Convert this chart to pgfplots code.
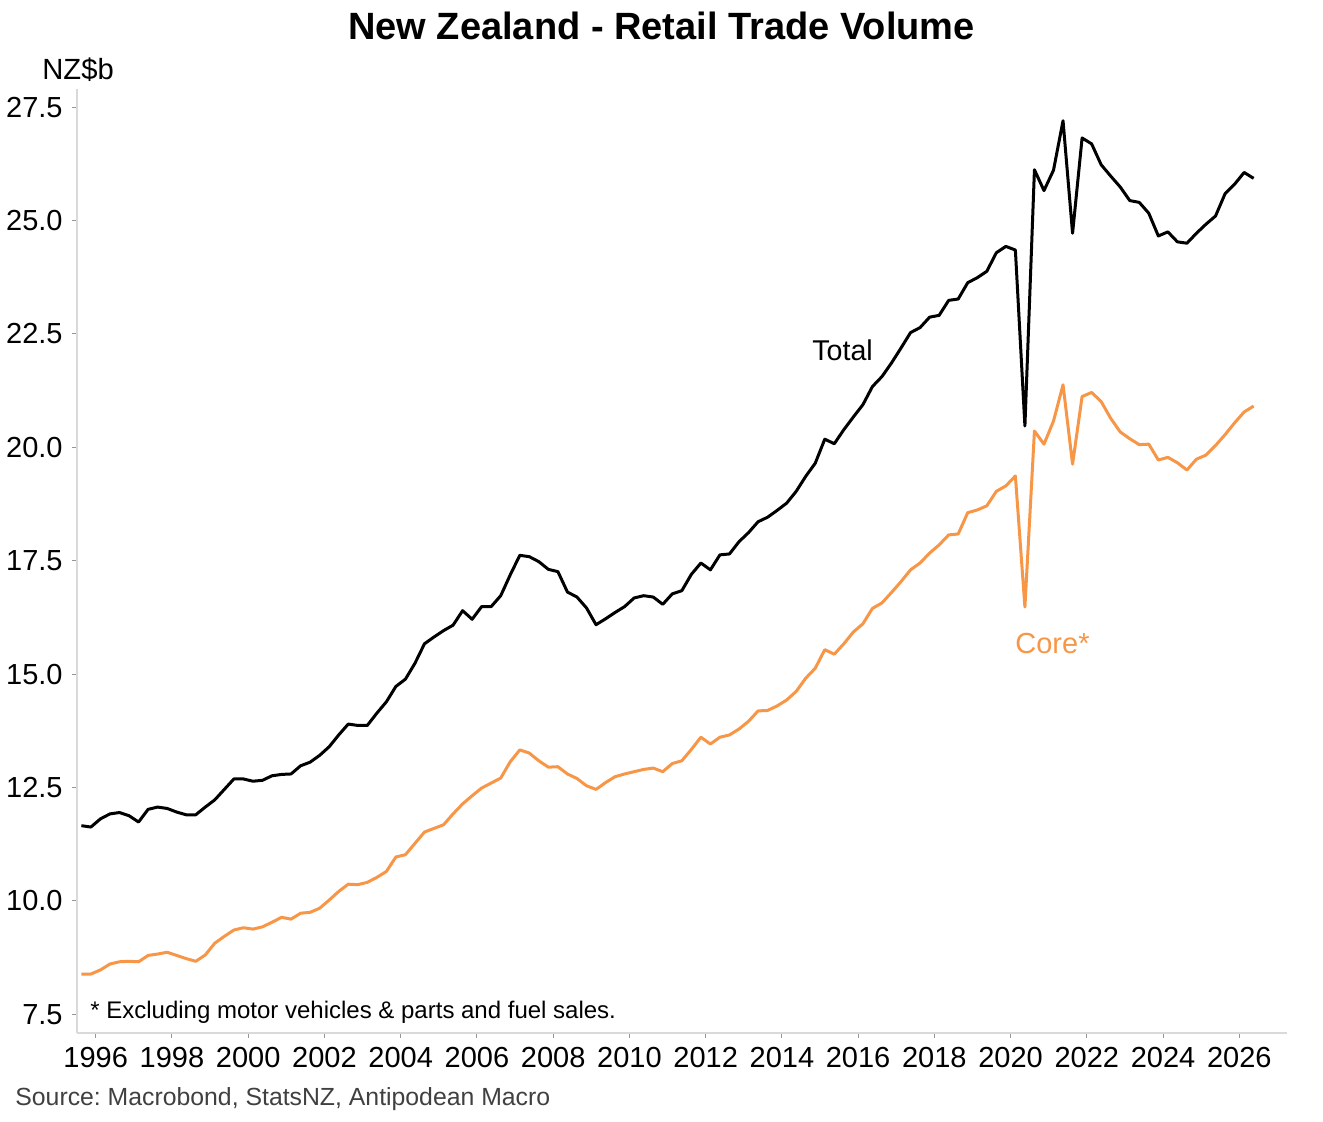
\documentclass[border=0pt]{standalone}
\usepackage{fontspec}
\setmainfont{Liberation Sans}
\usepackage{pgfplots}
\pgfplotsset{compat=1.18}
\usepackage{pgfplotstable}
\definecolor{coreorange}{RGB}{247,150,70}
\definecolor{srcgray}{RGB}{64,64,64}
\definecolor{axgray}{RGB}{217,217,217}
\definecolor{tickgray}{RGB}{150,150,150}
\frenchspacing

\pgfplotstableread{
x total core
1995.625 11.66 8.39
1995.875 11.63 8.39
1996.125 11.81 8.48
1996.375 11.92 8.61
1996.625 11.95 8.66
1996.875 11.88 8.67
1997.125 11.74 8.66
1997.375 12.02 8.80
1997.625 12.07 8.83
1997.875 12.04 8.87
1998.125 11.96 8.80
1998.375 11.90 8.73
1998.625 11.90 8.67
1998.875 12.07 8.81
1999.125 12.23 9.07
1999.375 12.46 9.22
1999.625 12.69 9.36
1999.875 12.69 9.41
2000.125 12.64 9.38
2000.375 12.66 9.43
2000.625 12.76 9.53
2000.875 12.79 9.64
2001.125 12.80 9.60
2001.375 12.98 9.73
2001.625 13.06 9.75
2001.875 13.21 9.84
2002.125 13.40 10.02
2002.375 13.66 10.21
2002.625 13.90 10.37
2002.875 13.87 10.36
2003.125 13.87 10.41
2003.375 14.14 10.52
2003.625 14.39 10.65
2003.875 14.73 10.97
2004.125 14.89 11.02
2004.375 15.24 11.27
2004.625 15.67 11.52
2004.875 15.82 11.60
2005.125 15.96 11.68
2005.375 16.08 11.92
2005.625 16.40 12.14
2005.875 16.21 12.32
2006.125 16.49 12.49
2006.375 16.49 12.60
2006.625 16.73 12.71
2006.875 17.19 13.07
2007.125 17.62 13.33
2007.375 17.59 13.26
2007.625 17.48 13.09
2007.875 17.31 12.95
2008.125 17.26 12.96
2008.375 16.81 12.80
2008.625 16.70 12.70
2008.875 16.46 12.54
2009.125 16.09 12.46
2009.375 16.22 12.61
2009.625 16.36 12.74
2009.875 16.49 12.80
2010.125 16.68 12.85
2010.375 16.73 12.90
2010.625 16.70 12.93
2010.875 16.54 12.85
2011.125 16.77 13.03
2011.375 16.84 13.09
2011.625 17.20 13.34
2011.875 17.45 13.61
2012.125 17.30 13.46
2012.375 17.63 13.61
2012.625 17.65 13.66
2012.875 17.92 13.79
2013.125 18.12 13.96
2013.375 18.36 14.19
2013.625 18.46 14.20
2013.875 18.61 14.30
2014.125 18.77 14.43
2014.375 19.03 14.62
2014.625 19.36 14.91
2014.875 19.65 15.13
2015.125 20.18 15.54
2015.375 20.08 15.44
2015.625 20.39 15.67
2015.875 20.67 15.93
2016.125 20.94 16.11
2016.375 21.34 16.45
2016.625 21.56 16.57
2016.875 21.86 16.80
2017.125 22.19 17.04
2017.375 22.53 17.30
2017.625 22.64 17.45
2017.875 22.87 17.67
2018.125 22.91 17.85
2018.375 23.24 18.07
2018.625 23.27 18.09
2018.875 23.63 18.56
2019.125 23.74 18.62
2019.375 23.88 18.71
2019.625 24.29 19.03
2019.875 24.43 19.15
2020.125 24.35 19.37
2020.375 20.47 16.48
2020.625 26.12 20.36
2020.875 25.66 20.07
2021.125 26.11 20.58
2021.375 27.20 21.38
2021.625 24.72 19.63
2021.875 26.82 21.12
2022.125 26.69 21.21
2022.375 26.23 21.01
2022.625 25.98 20.64
2022.875 25.74 20.34
2023.125 25.44 20.19
2023.375 25.40 20.06
2023.625 25.16 20.07
2023.875 24.66 19.72
2024.125 24.75 19.78
2024.375 24.53 19.66
2024.625 24.50 19.50
2024.875 24.72 19.74
2025.125 24.92 19.83
2025.375 25.10 20.04
2025.625 25.59 20.28
2025.875 25.80 20.54
2026.125 26.06 20.78
2026.375 25.93 20.91
}\datatable

\begin{document}
\begin{tikzpicture}
\useasboundingbox (0,0) rectangle (661.5pt,561pt);
\begin{axis}[
  at={(38.5pt,44.5pt)}, anchor=south west,
  scale only axis, width=605pt, height=472pt,
  xmin=1995.51, xmax=2027.25, ymin=7.09, ymax=27.9,
  axis x line*=bottom, axis y line*=left,
  axis line style={draw=axgray, line width=0.7pt, -},
  xtick={1996,1998,2000,2002,2004,2006,2008,2010,2012,2014,2016,2018,2020,2022,2024,2026},
  xticklabels={1996,1998,2000,2002,2004,2006,2008,2010,2012,2014,2016,2018,2020,2022,2024,2026},
  ytick={7.5,10,12.5,15,17.5,20,22.5,25,27.5},
  yticklabels={7.5,10.0,12.5,15.0,17.5,20.0,22.5,25.0,27.5},
  tick align=outside, major tick length=2.5pt,
  tick style={draw=tickgray, line width=0.5pt},
  tick label style={font=\fontsize{14.5}{17}\selectfont, inner sep=0pt},
  y tick label style={anchor=east, xshift=-4.5pt},
  x tick label style={anchor=north, yshift=-4.5pt},
  minor tick num=0,
]
\addplot[black, line width=1.5pt, line join=round] table[x=x,y=total]{\datatable};
\addplot[coreorange, line width=1.5pt, line join=round] table[x=x,y=core]{\datatable};
\end{axis}
\node[anchor=base, inner sep=0pt, font=\bfseries\fontsize{19}{22}\selectfont] at (330.75pt,541pt) {New Zealand - Retail Trade Volume};
\node[anchor=base west, inner sep=0pt, font=\fontsize{14.6}{17}\selectfont] at (21pt,521.35pt) {NZ\$b};
\node[anchor=base west, inner sep=0pt, text=srcgray, font=\fontsize{12.4}{15}\selectfont] at (7.5pt,8pt) {Source: Macrobond, StatsNZ, Antipodean Macro};
\node[anchor=base west, inner sep=0pt, font=\fontsize{12}{14}\selectfont] at (45pt,51.5pt) {* Excluding motor vehicles \& parts and fuel sales.};
\node[anchor=base west, inner sep=0pt, font=\fontsize{14.3}{17}\selectfont] at (406pt,380.5pt) {Total};
\node[anchor=base west, inner sep=0pt, text=coreorange, font=\fontsize{14.5}{17}\selectfont] at (507.5pt,234pt) {Core*};
\end{tikzpicture}
\end{document}
